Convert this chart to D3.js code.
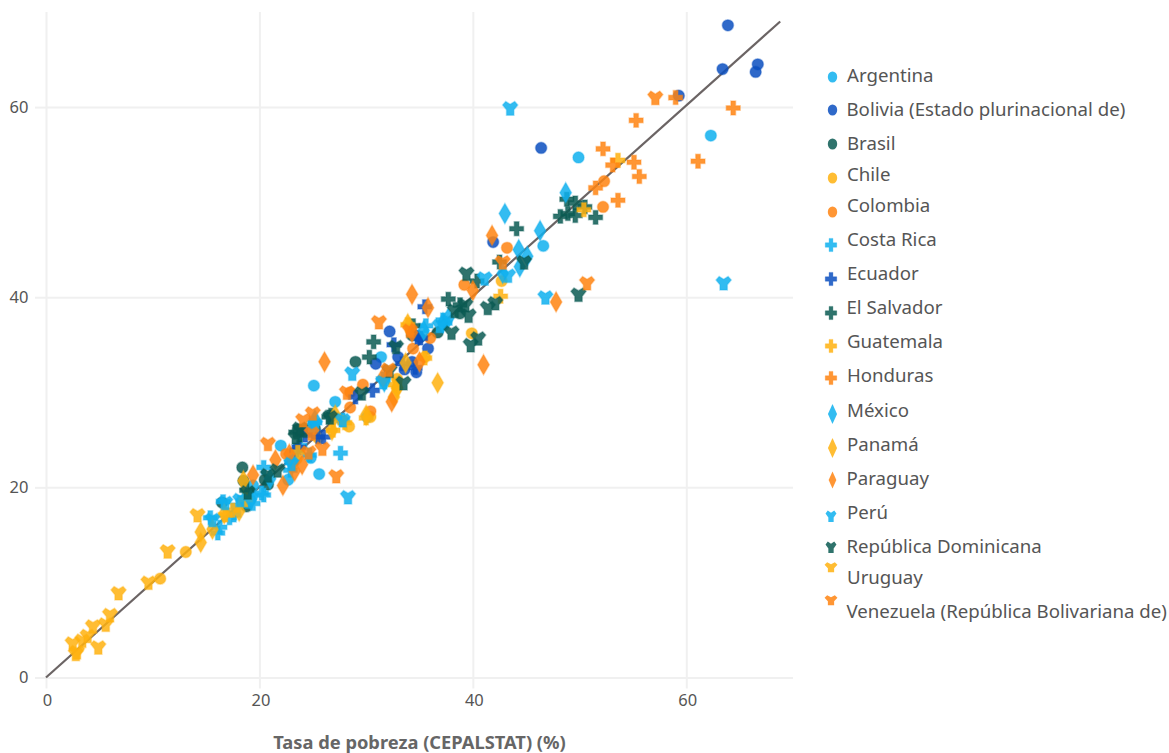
<!DOCTYPE html>
<html><head><meta charset="utf-8">
<script src="https://cdn.jsdelivr.net/npm/d3@7"></script>
<style>html,body{margin:0;background:#fff}svg{display:block}text{font-family:"Noto Sans",sans-serif}</style>
</head><body><svg id="c" width="1169" height="753"></svg>
<script>
const xTicks=[0,20,40,60], yTicks=[0,20,40,60];
const axisTitle="Tasa de pobreza (CEPALSTAT) (%)";
const refLine=[[0,0],[68.8,69]];
const argentina=[[25.1,30.7],[27.1,29],[31.4,33.7],[49.9,54.7],[62.3,57],[46.6,45.4],[25.6,21.4],[22,24.4],[22.7,20.8],[27.7,27.1],[30.1,27.4],[24.8,23.1],[18.8,18.3],[19.4,20.2],[19.3,19],[24.3,26]];
const bolivia=[[63.9,68.6],[63.4,64],[66.7,64.5],[66.5,63.7],[59.3,61.2],[46.4,55.7],[41.9,45.8],[32.2,36.4],[30.9,33],[33,33.7],[35.8,34.6],[33.6,32.4],[34.7,32.1],[35,35.8],[34.3,33.2]];
const brasil=[[18.4,22.1],[16.5,18.4],[18.5,20.7],[29,33.2],[36.7,36.3],[34.3,36],[20.8,20.3],[23.6,26.1],[25.2,26.2],[20.5,20.8],[18.8,18],[38.8,38.3]];
const chile=[[10.7,10.4],[13.1,13.2],[28.4,26.4],[30.4,27.4],[32.9,31.4],[35.5,33.7],[39.9,36.2],[42.7,41.7],[25.5,25.2],[23.5,23]];
const colombia=[[52.2,49.5],[52.3,52.2],[43.2,45.2],[39.2,41.3],[34.4,34.6],[28.5,30],[29.7,30.8],[28.5,28.4],[30.4,28],[36,35.7],[34.2,36.5],[24.7,26],[22.5,23.5]];
const costaRica=[[16.6,18.5],[15.4,16.8],[16.3,15.8],[16.1,15.2],[17.6,17.1],[18,18.1],[17.2,16.8],[18.9,18.5],[19.4,18.3],[18.6,18.9],[20.4,19.2],[20.4,22.1],[23,22.6],[20.2,19.4],[27.6,23.6],[25.2,26.8],[27.8,27.1],[24.7,23.4],[31.6,31.4],[37.2,37.6],[37.4,37.3],[35.6,37],[23.8,24.4],[24.9,26.5],[22.9,21.8]];
const ecuador=[[23.7,24.2],[26,25.3],[25.5,25.3],[29,29.5],[30.6,30.2],[32.6,35],[35.5,39],[34.8,35.8],[35.1,35.7],[34.6,32.6],[23.5,23.9],[24.3,25.5],[33.4,33]];
const elSalvador=[[44.1,47.2],[48.2,48.5],[48.9,48.8],[49.6,48.6],[49.6,49.9],[50.5,49.5],[51.5,48.4],[48.8,50.3],[42.5,43.7],[30.7,35.3],[30.3,33.7],[34.4,37],[37.7,39.8],[40.4,41.7],[23.4,25.8],[26.7,27.6],[26.5,27.4],[18.8,19.7],[23.8,25.5],[38.8,39.2]];
const guatemala=[[53.6,54.4],[50.4,49.2],[42.6,40.1],[17.5,17.6],[16.8,17.1],[28,26.8],[26.9,26],[18.7,18.7],[23.6,23.7],[30,27.3],[32.7,30.8],[35.5,33.6],[33.9,37.1]];
const honduras=[[64.4,59.9],[59,61],[55.3,58.6],[52.2,55.6],[53.6,50.2],[55.1,54.2],[55.6,52.7],[53.1,53.9],[61.1,54.3],[51.5,51.5]];
const mexico=[[48.7,51],[43,48.8],[46.3,47],[44.3,45],[45.1,44.3],[44.4,43.2],[42.8,42.5],[37.2,37.3],[37.7,37.8],[35.4,36.5],[23.1,22.5],[31.7,31.1],[25.2,27.1],[21,20.9],[19.2,18.7]];
const panama=[[14.5,15.3],[14.5,14.2],[15.6,15.6],[16.7,17.2],[18.1,17.5],[18.5,20.7],[36.7,31],[33.9,37.2],[33.7,33.1],[32.9,30.4],[30,27.6],[26.8,26],[27.1,27.6],[32.9,30.5],[32.6,29.5]];
const paraguay=[[41.8,46.5],[47.8,39.5],[34.3,40.3],[35.8,38.9],[40,40.7],[41,32.9],[35,33.2],[34.3,36.3],[31.6,31.6],[26.1,33.2],[32.4,29],[21.5,22.9],[24,22.4],[23.3,21.7],[22.8,23.5],[22.2,20.2],[19.4,21.3]];
const peru=[[43.5,59.9],[63.5,41.5],[46.8,40],[28.3,19],[28.7,32],[31.6,31.1],[41.1,42],[43.3,42.3],[23,22.5],[16.8,18.4],[27.8,27.1],[25.2,26.6],[18.2,18.7],[15.6,16.6],[36.9,37]];
const repDominicana=[[49.9,40.3],[39.4,42.5],[44.8,43.7],[42.1,39.4],[41.4,38.9],[39.6,38.1],[38.3,38.6],[39.3,39.2],[38,36.3],[40.5,35.7],[39.8,35],[32.2,32.3],[33.5,31],[32.8,34.8],[29.6,29.9],[26.6,27.4],[23.4,25.3],[23.8,26.2],[21.7,21.8],[20.8,21.3],[18.9,19.5]];
const uruguay=[[2.5,3.6],[2.9,2.7],[2.8,2.5],[3.4,3.9],[3.9,4.4],[4.4,5.4],[5.6,5.6],[6,6.6],[6.8,8.9],[4.9,3.2],[9.6,10],[11.4,13.3],[14.2,17.1]];
const venezuela=[[57.1,61],[50.7,41.5],[31.2,37.4],[42.8,43.7],[20.8,24.6],[27.2,21.2],[25,27.8],[24.1,27.1],[24.9,25.7],[24.6,23.7],[25.9,24.1],[28.2,30],[32.1,32.4],[34.1,36.5]];

const names=["Argentina","Bolivia (Estado plurinacional de)","Brasil","Chile","Colombia","Costa Rica","Ecuador","El Salvador","Guatemala","Honduras","México","Panamá","Paraguay","Perú","República Dominicana","Uruguay","Venezuela (República Bolivariana de)"];
const seriesData=[argentina,bolivia,brasil,chile,colombia,costaRica,ecuador,elSalvador,guatemala,honduras,mexico,panama,paraguay,peru,repDominicana,uruguay,venezuela];
const palette=["#0fb0ee","#0b4fc0","#0a5a52","#ffb20f","#ff8410"];
const colorIdx=[0,1,2,3,4,0,1,2,3,4,0,3,4,0,2,3,4];
const shapeIdx=[0,0,0,0,0,1,1,1,1,1,2,2,2,3,3,3,3];
// Legend layout (irregular in the original)
const legendTextY=[75.4,109.4,143.4,174.4,205.4,239.4,273.4,307.4,341.4,375.4,410.4,444.4,478.4,512.4,546.4,577.4,611.4];
const legendMarkY=[77,110,144,178,212,245,279,313,346,378,414,448,480,516,547,567,600];
const legendTextX=[847,846.5,847,847,847,847,847,846.5,847,847,847,847,846.5,847,846.5,847,846.5];

const x=d3.scaleLinear().domain([0,70]).range([46,793]);
const y=d3.scaleLinear().domain([0,70]).range([677.5,12]);
const svg=d3.select("#c");

const gx=svg.append("g").attr("transform","translate(0,677.5)")
 .call(d3.axisBottom(x).tickValues(xTicks).tickSize(-665.5).tickSizeOuter(0).tickPadding(0).tickFormat(d3.format("d")));
const gy=svg.append("g").attr("transform","translate(46,0)")
 .call(d3.axisLeft(y).tickValues(yTicks).tickSize(-747).tickSizeOuter(0).tickFormat(d3.format("d")));
[gx,gy].forEach(g=>{g.select(".domain").remove();
 g.selectAll(".tick line").attr("stroke","#f0f0f0").attr("stroke-width",2);
 g.selectAll("text").attr("fill","#555").attr("font-size",16.5);});
gx.selectAll(".tick").append("line").attr("y1",0).attr("y2",11).attr("stroke","#f0f0f0").attr("stroke-width",2);
gy.selectAll(".tick").append("line").attr("x1",0).attr("x2",-11).attr("stroke","#f0f0f0").attr("stroke-width",2);
gx.selectAll("text").attr("y",23).attr("dy","0.36em").attr("dx",1).attr("text-anchor","middle");
gy.selectAll("text").attr("x",-17.5).attr("dy","0.3em").attr("text-anchor","end");

svg.append("text").attr("x",419.5).attr("y",749).attr("text-anchor","middle")
 .attr("font-size",18.3).attr("font-weight",700).attr("fill","#666").text(axisTitle);

svg.append("path").attr("d",d3.line().x(d=>x(d[0])).y(d=>y(d[1]))(refLine))
 .attr("fill","none").attr("stroke","#6b6464").attr("stroke-width",2.2);

// Fat "Y" marker used by the original chart
const symbolFatY={draw(ctx,size){
 const k=Math.sqrt(size)/11;
 const v=[[-3.2,6.2],[3.2,6.2],[3.2,1.6],[6.6,-2.6],[3.9,-5.6],[0,-3.2],[-3.9,-5.6],[-6.6,-2.6],[-3.2,1.6]];
 v.forEach((p,i)=>i?ctx.lineTo(p[0]*k,p[1]*k):ctx.moveTo(p[0]*k,p[1]*k));
 ctx.closePath();
}};
const gens=[d3.symbol(d3.symbolCircle,100),d3.symbol(d3.symbolCross,108),d3.symbol(d3.symbolDiamond,118),d3.symbol(symbolFatY,160)];
seriesData.forEach((pts,i)=>{
 const s=shapeIdx[i], c=palette[colorIdx[i]];
 svg.append("g").selectAll("path").data(pts).join("path")
  .attr("d",gens[s]())
  .attr("transform",d=>`translate(${x(d[0])},${y(d[1])})`)
  .attr("fill",c).attr("fill-opacity",0.85).attr("stroke",c).attr("stroke-opacity",0.35).attr("stroke-width",1.5);
});

const lg=svg.append("g");
names.forEach((n,i)=>{
 const s=shapeIdx[i], c=palette[colorIdx[i]];
 const mx=s===0||s===2?832.5:831;
 const g=lg.append("g").attr("transform",`translate(${mx},${legendMarkY[i]})`);
 if(s===0) g.append("ellipse").attr("rx",4.7).attr("ry",5.6).attr("fill",c).attr("fill-opacity",0.85);
 else if(s===1) g.append("path").attr("d",gens[1]()).attr("transform","scale(.82,.95)").attr("fill",c).attr("fill-opacity",0.85).attr("stroke",c).attr("stroke-opacity",.35);
 else if(s===2) g.append("path").attr("d",gens[2]()).attr("transform",n==="Paraguay"?"scale(.66,.83)":"scale(.78,.98)").attr("fill",c).attr("fill-opacity",0.85);
 else g.append("path").attr("d",gens[3]()).attr("transform",i>=15?"scale(.85,.72)":"scale(.72,.85)").attr("fill",c).attr("fill-opacity",0.85);
 lg.append("text").attr("x",legendTextX[i]).attr("y",legendTextY[i]).attr("dy","0.36em").attr("font-size",18.65).attr("fill","#555").text(n);
});
</script></body></html>
